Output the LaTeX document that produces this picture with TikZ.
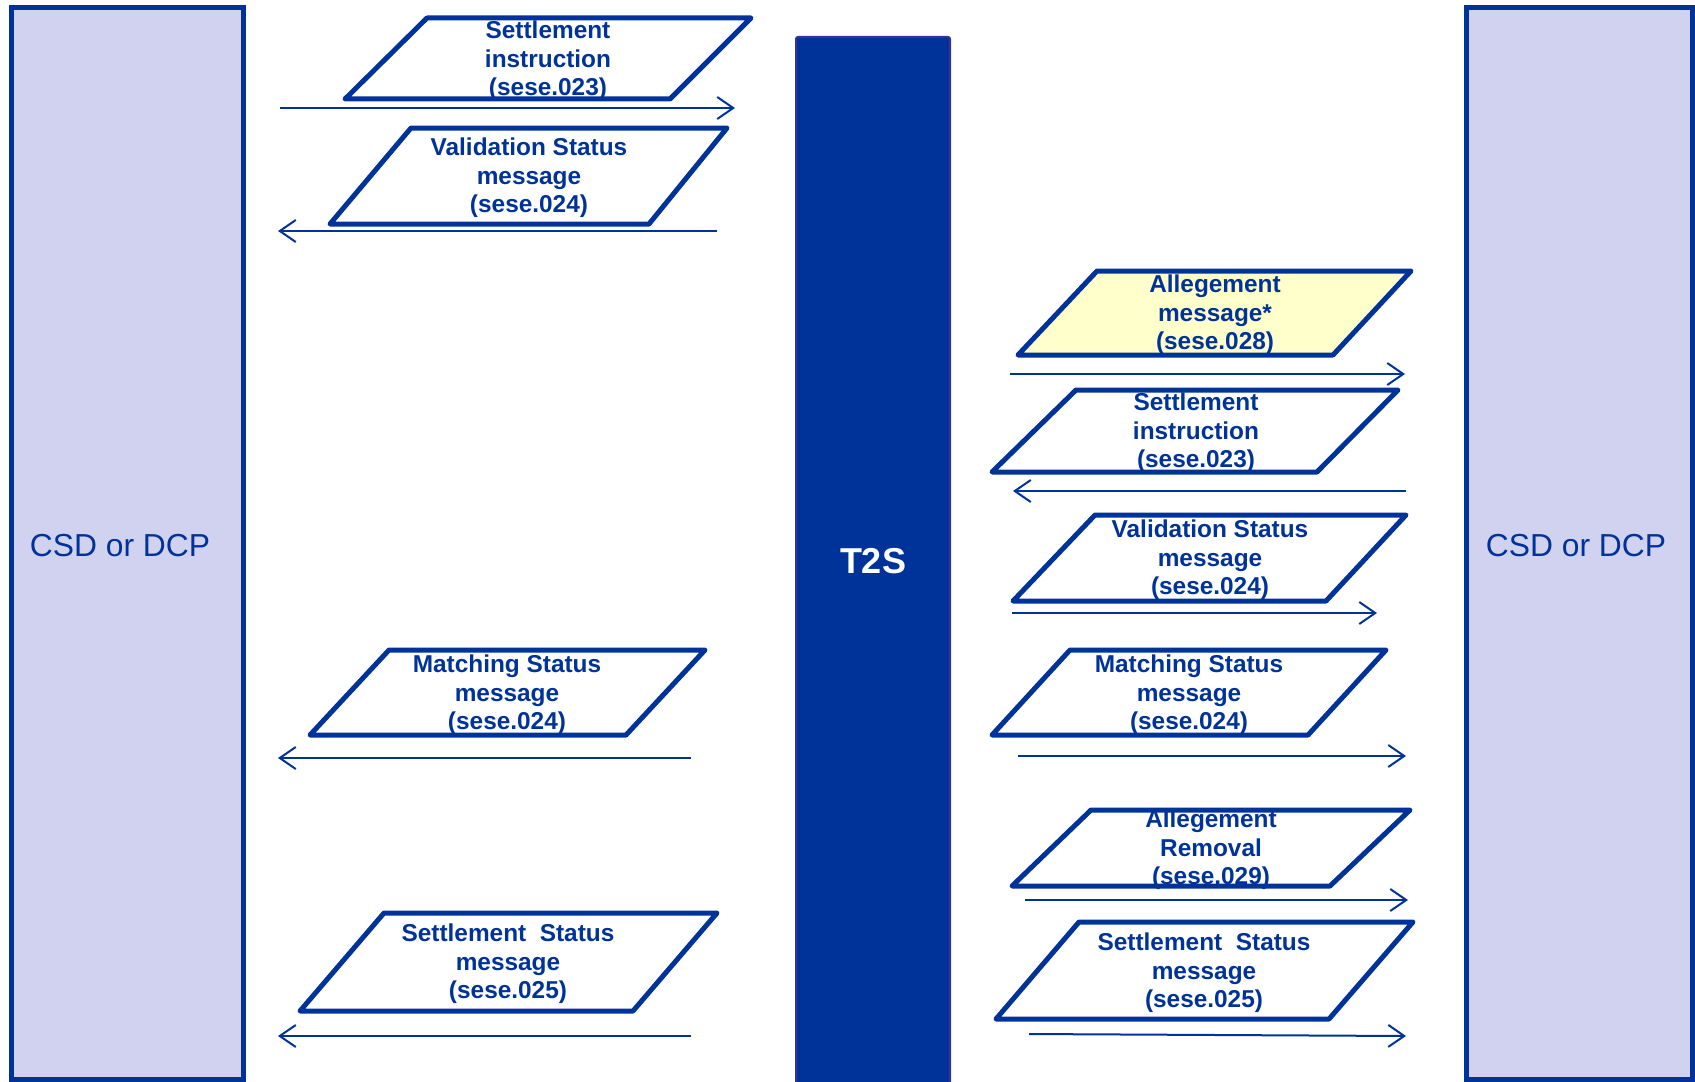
\documentclass[tikz,border=0pt]{standalone}
\usepackage{fontspec}
\setmainfont{Liberation Sans}
\usetikzlibrary{arrows.meta}
\definecolor{tsblue}{HTML}{003399}
\definecolor{tsedge}{HTML}{333399}
\definecolor{partyfill}{HTML}{D0D2F0}
\definecolor{allegfill}{HTML}{FFFFCC}
\tikzset{
  party/.style={draw=tsblue,line width=2.5pt,fill=partyfill,
    minimum height=535.5pt,inner sep=0pt},
  partytext/.style={text=tsblue,font=\fontsize{15.9}{18}\selectfont,inner sep=0pt},
  msgedge/.style={draw=tsblue,line width=2.5pt,line join=round},
  msgtext/.style={text=tsblue,align=center,inner sep=0pt,
    font=\bfseries\fontsize{12.2}{14.2}\selectfont},
  msgarrow/.style={draw=tsblue,line width=1pt,-{Straight Barb[length=8pt,width=11pt]}}
}
\begin{document}
\begin{tikzpicture}[x=0.5pt,y=-0.5pt]
            \useasboundingbox (0,0) rectangle (1695,1081);
            \node[party,minimum width=116pt] (csdL) at (127,543.5) {};
            \node[party,minimum width=113pt] (csdR) at (1579,543.5) {};
            \node[partytext] (csdLtext) at (120,546) {CSD or DCP};
            \node[partytext] (csdRtext) at (1576,546) {CSD or DCP};
            \node[draw=tsedge,line width=1pt,fill=tsblue,rounded corners=1pt,text=white,
                  font=\bfseries\fontsize{18}{20}\selectfont,
                  minimum width=77pt,minimum height=524pt] (ts) at (873,561) {T2S};

            % messages on the left
            \draw[msgedge] (427,18)--(751,18)--(670,99)--(345,99)--cycle;
            \node[msgtext] (instrL) at (548,61) {Settlement\\instruction\\(sese.023)};
            \draw[msgedge] (411,128)--(727,128)--(649,224)--(330,224)--cycle;
            \node[msgtext] (valL) at (529,178) {Validation Status\\message\\(sese.024)};
            \draw[msgedge] (389,650)--(705,650)--(626,735)--(310,735)--cycle;
            \node[msgtext] (matchL) at (507,695) {Matching Status\\message\\(sese.024)};
            \draw[msgedge] (384,913)--(717,913)--(633,1011)--(300,1011)--cycle;
            \node[msgtext] (settL) at (508,964) {Settlement \ Status\\message\\(sese.025)};

            \coordinate (a1s) at (280,108); \coordinate (a1e) at (735,108);
            \coordinate (a2s) at (717,231); \coordinate (a2e) at (278,231);
            \coordinate (a3s) at (691,758); \coordinate (a3e) at (278,758);
            \coordinate (a4s) at (691,1036); \coordinate (a4e) at (278,1036);
            \draw[msgarrow] (a1s)--(a1e);
            \draw[msgarrow] (a2s)--(a2e);
            \draw[msgarrow] (a3s)--(a3e);
            \draw[msgarrow] (a4s)--(a4e);

            % messages on the right
            \draw[msgedge,fill=allegfill] (1097,271)--(1411,271)--(1333,355)--(1018,355)--cycle;
            \node[msgtext] (allegR) at (1215,315) {Allegement\\message*\\(sese.028)};
            \draw[msgedge] (1076,390)--(1398,390)--(1317,472)--(992,472)--cycle;
            \node[msgtext] (instrR) at (1196,433) {Settlement\\instruction\\(sese.023)};
            \draw[msgedge] (1095,515)--(1406,515)--(1326,601)--(1013,601)--cycle;
            \node[msgtext] (valR) at (1210,560) {Validation Status\\message\\(sese.024)};
            \draw[msgedge] (1070,650)--(1386,650)--(1308,735)--(992,735)--cycle;
            \node[msgtext] (matchR) at (1189,695) {Matching Status\\message\\(sese.024)};
            \draw[msgedge] (1091,810)--(1410,810)--(1330,886)--(1012,886)--cycle;
            \node[msgtext] (remR) at (1211,850) {Allegement\\Removal\\(sese.029)};
            \draw[msgedge] (1079,922)--(1413,922)--(1329,1019)--(996,1019)--cycle;
            \node[msgtext] (settR) at (1204,973) {Settlement \ Status\\message\\(sese.025)};

            \coordinate (b1s) at (1010,374); \coordinate (b1e) at (1405,374);
            \coordinate (b2s) at (1406,491); \coordinate (b2e) at (1013,491);
            \coordinate (b3s) at (1012,613); \coordinate (b3e) at (1377,613);
            \coordinate (b4s) at (1018,756); \coordinate (b4e) at (1406,756);
            \coordinate (b5s) at (1025,900); \coordinate (b5e) at (1408,900);
            \coordinate (b6s) at (1029,1034); \coordinate (b6e) at (1406,1036);
            \draw[msgarrow] (b1s)--(b1e);
            \draw[msgarrow] (b2s)--(b2e);
            \draw[msgarrow] (b3s)--(b3e);
            \draw[msgarrow] (b4s)--(b4e);
            \draw[msgarrow] (b5s)--(b5e);
            \draw[msgarrow] (b6s)--(b6e);
\end{tikzpicture}
\end{document}
